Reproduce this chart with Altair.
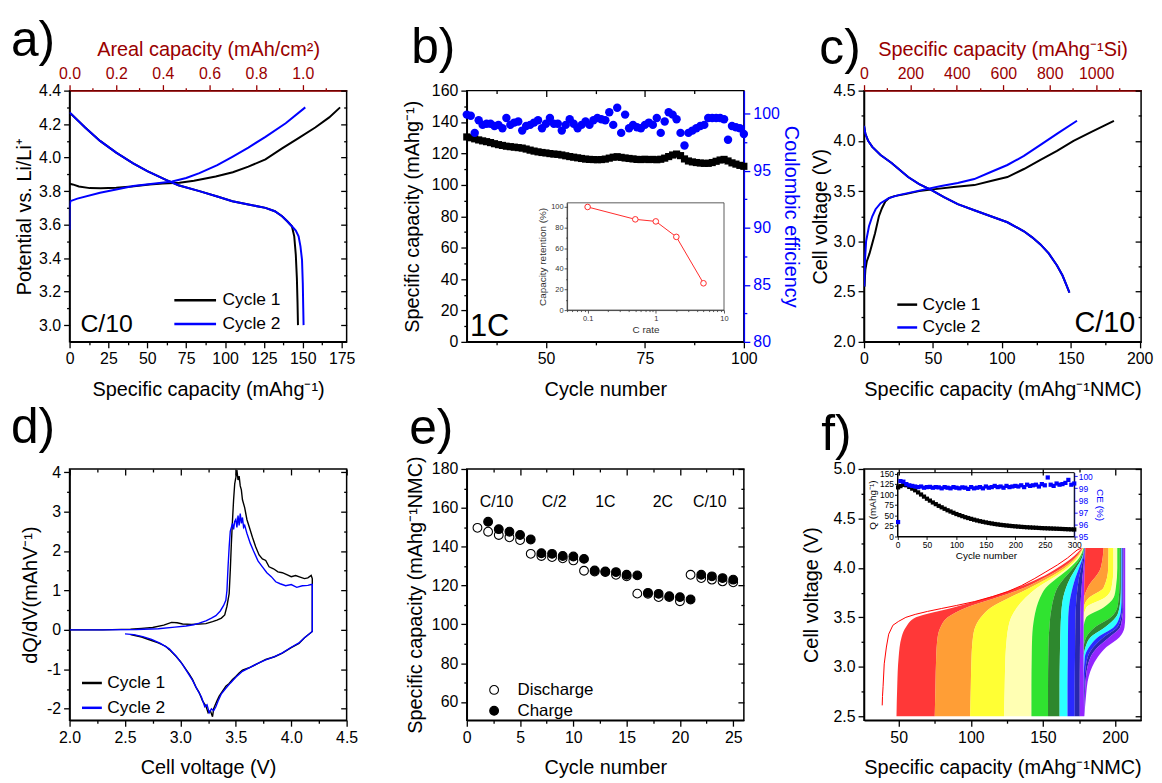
import altair as alt
import pandas as pd

FONT = "Liberation Sans"
W, H = 279, 253
DRED = "#990000"
BLUE = "#0000ff"

# ======================= DATA =======================
# (a) half-cell profiles (specific capacity mAh/g, potential V)
a_c1_chg_cap = [0, 2, 6, 13, 20, 30, 40, 51.5, 60, 70.7, 80, 94, 105, 115, 126, 136.7, 147, 158, 167, 174]
a_c1_chg_v = [3.844, 3.84, 3.828, 3.818, 3.817, 3.82, 3.828, 3.84, 3.845, 3.85, 3.862, 3.887, 3.913, 3.946, 3.99, 4.055, 4.115, 4.18, 4.24, 4.30]
a_c2_chg_cap = [0, 0, 0.5, 5, 19.6, 30, 40.9, 55, 66, 75, 83.5, 95, 104.7, 115, 126, 139, 151.6]
a_c2_chg_v = [3.57, 3.70, 3.74, 3.755, 3.79, 3.81, 3.83, 3.845, 3.857, 3.878, 3.907, 3.955, 4.005, 4.06, 4.124, 4.205, 4.30]
a_c1_dis_cap = [0, 10, 19.6, 30, 40.9, 50, 62, 70, 83.5, 95, 104.7, 115, 126, 132, 136.7, 140, 143, 144.5, 145.5, 146.2, 146.6, 146.9]
a_c1_dis_v = [4.27, 4.18, 4.10, 4.03, 3.966, 3.92, 3.867, 3.835, 3.80, 3.768, 3.74, 3.72, 3.70, 3.68, 3.65, 3.62, 3.59, 3.53, 3.42, 3.28, 3.14, 3.0]
a_c2_dis_cap = [0, 10, 19.6, 30, 40.9, 50, 62, 70, 83.5, 95, 104.7, 115, 126, 132, 136.7, 140, 143, 145.5, 147.3, 148.5, 149.5, 150.0, 150.3, 150.5]
a_c2_dis_v = [4.27, 4.18, 4.10, 4.03, 3.966, 3.92, 3.867, 3.835, 3.80, 3.768, 3.74, 3.72, 3.70, 3.68, 3.65, 3.62, 3.59, 3.565, 3.53, 3.47, 3.39, 3.25, 3.1, 3.0]
a_note = ["C/10"]; a_note_x = [7]; a_note_y = [2.96]

# (b) cycling at 1C
b_cycle = list(range(30, 101))
b_cap = [130.5, 130.0, 129.3, 128.6, 128.0, 127.5, 126.9, 126.2, 125.6, 125.1,
         124.6, 124.3, 124.0, 123.7, 123.4, 122.8, 122.1, 121.5, 121.0, 120.6,
         120.3, 119.9, 119.6, 119.4, 119.0, 118.5, 118.0, 117.6, 117.2, 116.8,
         116.4, 116.2, 116.1, 116.0, 116.1, 116.4, 117.0, 117.6, 117.9, 117.5,
         117.1, 116.8, 116.5, 116.2, 116.1, 116.3, 116.1, 116.2, 116.0, 116.3,
         117.0, 118.0, 119.0, 119.6, 118.6, 116.5, 115.2, 114.6, 114.2, 113.9,
         113.7, 113.7, 114.2, 115.0, 115.8, 116.2, 115.2, 114.0, 113.2, 112.4, 111.8]
b_ce = [99.9, 99.8, 98.3, 99.4, 99.0, 99.1, 99.1, 98.9, 99.0, 98.7,
        99.6, 99.0, 99.2, 99.3, 98.5, 98.9, 99.0, 99.2, 99.4, 98.7,
        99.1, 99.6, 99.1, 99.1, 98.5, 99.0, 99.5, 99.1, 98.7, 99.0,
        99.3, 99.0, 99.4, 99.6, 99.5, 99.4, 100.1, 99.0, 100.5, 98.3,
        99.9, 98.7, 99.0, 98.8, 98.7, 99.0, 99.2, 99.0, 99.6, 98.3,
        99.3, 100.1, 99.9, 99.5, 98.3, 97.2, 98.3, 98.5, 98.7, 98.9,
        99.0, 99.6, 99.6, 99.6, 99.6, 99.5, 97.7, 98.9, 98.8, 98.7, 98.2]
b_in_rate = [0.1, 0.5, 1, 2, 5]
b_in_ret = [100, 88, 86, 71, 26]
b_note = ["1C"]; b_note_x = [30.8]; b_note_y = [4]

# (c) full cell profiles
c_c1_chg_cap = [0.3, 0.6, 1, 2, 4, 6, 8, 10.8, 13, 15.6, 18, 22, 30, 40, 51.5, 65, 80, 92, 104, 116, 128, 140, 152, 165, 181.3]
c_c1_chg_v = [2.55, 2.63, 2.72, 2.8, 2.88, 2.98, 3.08, 3.25, 3.33, 3.40, 3.43, 3.45, 3.47, 3.50, 3.52, 3.54, 3.56, 3.60, 3.64, 3.72, 3.81, 3.90, 4.00, 4.09, 4.20]
c_c2_chg_cap = [0.2, 0.6, 1.5, 3.6, 6, 8.4, 12, 18, 25, 35, 45, 56, 68, 80, 92, 104, 116, 128, 141, 154.5]
c_c2_chg_v = [2.55, 2.79, 3.0, 3.15, 3.25, 3.32, 3.38, 3.43, 3.46, 3.49, 3.52, 3.55, 3.58, 3.62, 3.69, 3.76, 3.85, 3.96, 4.08, 4.20]
c_dis_cap = [0, 1, 3, 6, 12, 20, 32, 40, 49, 58, 68, 80, 92, 104, 116, 122, 128, 134, 140, 144, 147, 149]
c_dis_v = [4.15, 4.07, 4.0, 3.94, 3.86, 3.78, 3.64, 3.57, 3.51, 3.44, 3.37, 3.31, 3.25, 3.19, 3.1, 3.04, 2.97, 2.88, 2.76, 2.66, 2.56, 2.49]
c_note = ["C/10"]; c_note_x = [196.8]; c_note_y = [2.1]

# (d) dQ/dV
d_c1_chg_v = [2.0, 2.3, 2.55, 2.65, 2.75, 2.85, 2.92, 2.97, 3.02, 3.1, 3.17, 3.23, 3.29, 3.33, 3.37, 3.40, 3.42, 3.44, 3.45, 3.46,
              3.47, 3.48, 3.49, 3.50, 3.51, 3.52, 3.53, 3.54, 3.55, 3.56, 3.58, 3.60, 3.62, 3.65, 3.68, 3.71, 3.74, 3.77, 3.80, 3.84,
              3.88, 3.92, 3.96, 4.00, 4.04, 4.08, 4.12, 4.15, 4.18, 4.19]
d_c1_chg_q = [0, 0, 0.02, 0.04, 0.06, 0.12, 0.19, 0.18, 0.15, 0.14, 0.15, 0.16, 0.21, 0.25, 0.3, 0.38, 0.6, 0.92, 1.5, 2.2,
              2.77, 3.3, 3.7, 3.86, 4.05, 3.8, 3.9, 3.65, 3.55, 3.3, 3.1, 2.8, 2.62, 2.35, 2.1, 1.9, 1.8, 1.76, 1.6, 1.55,
              1.47, 1.45, 1.4, 1.35, 1.38, 1.34, 1.3, 1.32, 1.38, 1.3]
d_c1_dis_v = [4.19, 4.12, 4.07, 4.0, 3.92, 3.85, 3.77, 3.7, 3.62, 3.56, 3.53, 3.5, 3.47, 3.44, 3.41, 3.38, 3.35, 3.33, 3.31, 3.30,
              3.29, 3.27, 3.25, 3.23, 3.2, 3.17, 3.14, 3.11, 3.08, 3.05, 3.0, 2.96, 2.9, 2.87, 2.8, 2.72, 2.65, 2.57, 2.55]
d_c1_dis_q = [-0.04, -0.2, -0.34, -0.45, -0.59, -0.68, -0.75, -0.85, -0.96, -1.02, -1.09, -1.18, -1.26, -1.36, -1.43, -1.55, -1.68, -1.8, -1.93, -2.0,
              -2.2, -2.05, -2.1, -1.93, -1.8, -1.59, -1.45, -1.26, -1.12, -1.0, -0.8, -0.67, -0.5, -0.42, -0.33, -0.25, -0.18, -0.13, -0.12]
d_c2_chg_v = [2.0, 2.3, 2.6, 2.8, 2.95, 3.05, 3.12, 3.17, 3.23, 3.28, 3.32, 3.36, 3.39, 3.41, 3.42, 3.43, 3.44, 3.45, 3.46, 3.47,
              3.48, 3.49, 3.50, 3.51, 3.52, 3.53, 3.54, 3.55, 3.56, 3.57, 3.58, 3.60, 3.63, 3.66, 3.70, 3.74, 3.78, 3.82, 3.86, 3.90,
              3.95, 4.0, 4.05, 4.1, 4.15, 4.18, 4.19]
d_c2_chg_q = [0, 0, 0.01, 0.03, 0.07, 0.1, 0.13, 0.17, 0.23, 0.3, 0.36, 0.48, 0.62, 0.75, 1.0, 1.6, 2.1, 2.5, 2.6, 2.7,
              2.55, 2.75, 2.8, 2.6, 2.9, 2.65, 2.95, 2.7, 2.85, 2.6, 2.65, 2.45, 2.2, 2.0, 1.75, 1.6, 1.45, 1.35, 1.22, 1.17,
              1.12, 1.15, 1.08, 1.12, 1.13, 1.15, 1.15]
d_c2_dis_v = [4.19, 4.12, 4.07, 4.0, 3.92, 3.85, 3.77, 3.7, 3.62, 3.56, 3.5, 3.45, 3.41, 3.37, 3.34, 3.32, 3.30, 3.28, 3.26, 3.24,
              3.22, 3.19, 3.15, 3.11, 3.07, 3.02, 2.96, 2.9, 2.82, 2.74, 2.66, 2.58, 2.5]
d_c2_dis_q = [-0.04, -0.2, -0.33, -0.44, -0.58, -0.68, -0.76, -0.85, -0.96, -1.05, -1.2, -1.35, -1.48, -1.62, -1.8, -1.95, -2.05, -2.0, -2.1, -1.9,
              -1.95, -1.7, -1.5, -1.28, -1.1, -0.88, -0.66, -0.48, -0.34, -0.24, -0.17, -0.12, -0.1]

# (e) rate capability
e_dis_cycle = list(range(1, 26))
e_dis = [149.7, 147.7, 146.0, 144.8, 143.4, 136.3, 135.2, 134.6, 134.0, 132.9, 127.6, 127.2, 126.9, 125.5, 124.7,
         115.8, 115.7, 114.0, 114.0, 111.9, 125.5, 123.8, 123.0, 122.1, 121.6]
e_chg_cycle = list(range(2, 26))
e_chg = [152.8, 149.0, 147.7, 146.0, 143.7, 136.6, 136.3, 135.2, 134.9, 133.7, 127.7, 127.2, 126.9, 125.5, 125.2,
         116.2, 115.7, 114.5, 114.0, 112.8, 125.5, 124.7, 123.8, 123.0]
e_rate_label = ["C/10", "C/2", "1C", "2C", "C/10"]
e_rate_x = [2.8, 8.2, 13.0, 18.4, 22.8]
e_rate_y = [163, 163, 163, 163, 163]

# (f) long-term cycling profiles, colour bands (cycle groups, early = purple ... late = red)
f_band_names = ["red", "orange", "yellow", "lightyellow", "green", "darkgreen", "cyan", "blue", "navy", "purple"]
f_band_colors = ["#ff0000", "#ff8400", "#ffff00", "#ffffa0", "#00dc00", "#006e00", "#00ffff", "#0000ff", "#0000a0", "#8000ff"]
f_band_alpha = [0.78, 0.85, 0.9, 1, 1, 1, 1, 1, 1, 1]
f_dis_v = [2.5, 2.8, 3.1, 3.3, 3.4, 3.5, 3.6, 3.7, 3.8, 3.9, 4.0, 4.1, 4.2]
f_dis_bounds = [
    [48.5, 49.0, 50.0, 52.0, 55.0, 62.0, 88.0, 112.0, 132.0, 148.0, 160.0, 170.0, 177.0],
    [75.0, 75.5, 76.0, 77.0, 79.0, 84.0, 97.0, 118.0, 137.0, 151.0, 163.0, 172.0, 177.5],
    [99.5, 100.0, 100.5, 101.5, 103.0, 107.0, 114.0, 127.0, 141.0, 154.0, 165.0, 173.0, 177.8],
    [123.0, 123.5, 124.0, 125.0, 126.0, 128.0, 132.0, 138.0, 146.0, 157.0, 167.0, 174.0, 178.0],
    [142.0, 142.0, 142.2, 142.5, 143.0, 144.0, 145.5, 148.0, 152.0, 160.0, 168.5, 175.0, 178.2],
    [153.5, 153.5, 153.7, 154.0, 154.5, 155.0, 156.0, 157.5, 160.0, 165.0, 171.0, 176.0, 178.4],
    [161.5, 161.5, 161.7, 162.0, 162.2, 162.5, 163.0, 164.0, 166.0, 169.0, 173.0, 177.0, 178.6],
    [167.0, 167.0, 167.2, 167.3, 167.4, 167.5, 168.0, 169.0, 170.5, 172.5, 175.0, 177.5, 178.8],
    [172.0, 172.0, 172.2, 172.3, 172.4, 172.5, 172.8, 173.3, 174.0, 175.0, 176.5, 178.0, 179.0],
    [175.5, 175.5, 175.6, 175.7, 175.8, 175.9, 176.0, 176.3, 176.8, 177.3, 178.0, 178.6, 179.2],
    [178.5, 178.3, 178.2, 178.2, 178.2, 178.2, 178.3, 178.4, 178.6, 178.8, 179.0, 179.2, 179.4],
]
f_chg_v = [2.5, 2.7, 2.9, 3.1, 3.2, 3.3, 3.4, 3.5, 3.6, 3.7, 3.8, 4.0, 4.2]
f_chg_bounds = [
    [178.5, 178.4, 178.3, 178.3, 178.3, 178.3, 178.3, 178.3, 178.4, 178.5, 178.6, 179.0, 179.4],
    [178.5, 178.4, 178.3, 178.3, 178.3, 178.3, 178.3, 178.3, 178.4, 178.6, 181.0, 190.0, 192.0],
    [178.5, 178.4, 178.3, 178.3, 178.3, 178.3, 178.3, 178.3, 178.4, 182.0, 192.0, 195.2, 195.4],
    [178.5, 178.4, 178.3, 178.3, 178.3, 178.3, 178.3, 178.3, 180.0, 193.0, 197.5, 198.8, 198.8],
    [178.5, 178.4, 178.3, 178.3, 178.3, 178.3, 178.3, 180.0, 192.0, 199.0, 200.5, 201.5, 201.5],
    [178.5, 178.4, 178.3, 178.3, 178.3, 180.0, 186.0, 197.0, 201.5, 202.5, 203.0, 203.2, 203.2],
    [178.5, 178.4, 178.3, 178.3, 179.5, 183.0, 193.0, 200.5, 203.0, 203.8, 204.0, 204.0, 204.0],
    [178.5, 178.4, 178.3, 179.0, 182.0, 188.0, 199.0, 203.0, 204.2, 204.5, 204.5, 204.5, 204.5],
    [178.5, 178.6, 179.0, 181.0, 185.0, 192.0, 201.5, 204.2, 205.0, 205.1, 205.2, 205.2, 205.2],
    [178.5, 179.0, 179.8, 183.0, 188.0, 196.0, 203.5, 205.0, 205.5, 205.6, 205.6, 205.8, 205.8],
    [178.7, 179.8, 181.7, 188.0, 194.0, 203.0, 206.5, 207.0, 207.0, 207.0, 207.0, 207.0, 207.0],
]
f_last_cap = [38.6, 38.8, 39.2, 40.0, 41.5, 43.1, 46.0, 50.0, 55.0, 61.5, 70.0, 79.8, 90.0, 102.7, 115.0, 125.5, 135.0, 143.9, 152.0, 160.0, 167.0, 173.6, 176.5]
f_last_v = [2.61, 2.7, 2.8, 3.03, 3.2, 3.33, 3.42, 3.46, 3.5, 3.53, 3.56, 3.59, 3.62, 3.66, 3.71, 3.76, 3.82, 3.89, 3.96, 4.03, 4.1, 4.18, 4.2]
f_in_cycle = [1] + list(range(5, 301, 5))
f_in_q = [117, 120, 123, 122, 118, 114, 110, 105, 100, 95, 90, 85.5, 81, 77, 73, 69.5, 66, 62.5, 59.5, 56.5,
          53.5, 51, 48.5, 46, 44, 42, 40, 38.2, 36.5, 35, 33.5, 32.2, 31, 29.8, 28.8, 27.8, 27, 26.2, 25.5, 24.8,
          24.2, 23.6, 23, 22.5, 22, 21.6, 21.2, 20.8, 20.4, 20, 19.7, 19.4, 19.1, 18.8, 18.5, 18.2, 17.9, 17.6, 17.3, 17, 16.7]
f_in_ce = [96.2, 99.6, 99.55, 99.35, 99.25, 99.2, 99.15, 99.1, 99.15, 99.05, 99.1, 99.12, 99.05, 99.1, 99.08, 99.0, 99.1, 99.05, 99.0, 99.1,
           99.05, 99.0, 99.08, 99.05, 98.95, 99.1, 99.0, 99.05, 99.1, 99.0, 99.15, 99.05, 99.1, 99.2, 99.1, 99.15, 99.05, 99.2, 99.1, 99.15,
           99.2, 99.15, 99.25, 99.1, 99.3, 99.2, 99.25, 99.3, 99.15, 99.35, 99.25, 99.9, 99.3, 99.2, 99.4, 99.3, 99.35, 99.45, 99.7, 99.3, 99.4]

# ---------------- axis domains / ticks ----------------
A_X = [0, 178.2]; A_Y = [2.9, 4.4]; A_T = [0, 1.188]
a_x_major = [0, 25, 50, 75, 100, 125, 150, 175]; a_x_minor = [12.5, 37.5, 62.5, 87.5, 112.5, 137.5, 162.5]
a_y_major = [3.0, 3.2, 3.4, 3.6, 3.8, 4.0, 4.2, 4.4]; a_y_minor = [3.1, 3.3, 3.5, 3.7, 3.9, 4.1, 4.3]
a_t_major = [0.0, 0.2, 0.4, 0.6, 0.8, 1.0]; a_t_minor = [0.1, 0.3, 0.5, 0.7, 0.9, 1.1]
B_X = [30, 100]; B_Y = [0, 160]; B_Y2 = [80, 102]
b_x_major = [50, 75, 100]; b_x_minor = [37.5, 62.5, 87.5]
b_y_major = [0, 20, 40, 60, 80, 100, 120, 140, 160]; b_y_minor = [10, 30, 50, 70, 90, 110, 130, 150]
b_y2_major = [80, 85, 90, 95, 100]; b_y2_minor = [82.5, 87.5, 92.5, 97.5]
BI_X = [0.05, 10]; BI_Y = [0, 104]
bi_x_major = [0.1, 1, 10]; bi_x_minor = [0.05, 0.06, 0.07, 0.08, 0.09, 0.2, 0.3, 0.4, 0.5, 0.6, 0.7, 0.8, 0.9, 2, 3, 4, 5, 6, 7, 8, 9]
bi_y_major = [0, 20, 40, 60, 80, 100]; bi_y_minor = [10, 30, 50, 70, 90]
C_X = [0, 201]; C_Y = [2.0, 4.5]; C_T = [0, 1193.6]
c_x_major = [0, 50, 100, 150, 200]; c_x_minor = [25, 75, 125, 175]
c_y_major = [2.0, 2.5, 3.0, 3.5, 4.0, 4.5]; c_y_minor = [2.25, 2.75, 3.25, 3.75, 4.25]
c_t_major = [0, 200, 400, 600, 800, 1000]; c_t_minor = [100, 300, 500, 700, 900, 1100]
D_X = [2.0, 4.5]; D_Y = [-2.29, 4.08]
d_x_major = [2.0, 2.5, 3.0, 3.5, 4.0, 4.5]; d_x_minor = [2.25, 2.75, 3.25, 3.75, 4.25]
d_y_major = [-2, -1, 0, 1, 2, 3, 4]; d_y_minor = [-1.5, -0.5, 0.5, 1.5, 2.5, 3.5]
E_X = [0, 26]; E_Y = [50.6, 180]
e_x_major = [0, 5, 10, 15, 20, 25]; e_x_minor = [2.5, 7.5, 12.5, 17.5, 22.5]
e_y_major = [60, 80, 100, 120, 140, 160, 180]; e_y_minor = [70, 90, 110, 130, 150, 170]
F_X = [26, 218]; F_Y = [2.46, 5.0]
f_x_major = [50, 100, 150, 200]; f_x_minor = [75, 125, 175]
f_y_major = [2.5, 3.0, 3.5, 4.0, 4.5, 5.0]; f_y_minor = [2.75, 3.25, 3.75, 4.25, 4.75]
FI_X = [0, 300]; FI_Q = [0, 152]; FI_CE = [95, 100.3]
fi_x_major = [0, 50, 100, 150, 200, 250, 300]
fi_q_major = [0, 25, 50, 75, 100, 125, 150]
fi_ce_major = [95, 96, 97, 98, 99, 100]

XT_PAD = 13  # bottom axis title padding


# ======================= HELPERS =======================
def js(v):
    v = float(v)
    return str(int(v)) if v.is_integer() else repr(v)


def axis(dom, major, minor, fmt, major_size=6, minor_size=3, **kw):
    lo, hi = min(dom), max(dom)
    vals = sorted(set(float(v) for v in list(major) + list(minor) if lo - 1e-9 <= v <= hi + 1e-9))
    arr = "[" + ",".join(js(v) for v in major) + "]"
    label = (f"indexof({arr}, datum.value) >= 0 ? (datum.value < 0 ? '-' : '') + "
             f"format(abs(datum.value), '{fmt}') : ''")
    size = {"condition": {"test": f"indexof({arr}, datum.value) < 0", "value": minor_size}, "value": major_size}
    return alt.Axis(values=vals, labelExpr=label, tickSize=size, labelFlush=False, **kw)


def sc(dom, **kw):
    return alt.Scale(domain=list(dom), nice=False, zero=False, **kw)


def mirror_x(dom, major, minor):
    df = pd.DataFrame({"mx": list(dom)})
    return alt.Chart(df).mark_point(opacity=0).encode(
        x=alt.X("mx:Q", scale=sc(dom),
                axis=axis(dom, major, minor, "d", orient="bottom", offset=-H, labels=False,
                          domain=False, title=None)))


def mirror_y(dom, major, minor):
    df = pd.DataFrame({"my": list(dom)})
    return alt.Chart(df).mark_point(opacity=0).encode(
        y=alt.Y("my:Q", scale=sc(dom),
                axis=axis(dom, major, minor, "d", orient="left", offset=-W, labels=False,
                          domain=False, title=None)))


def add_series(rows, xs, ys, name, seg, xk, yk):
    assert len(xs) == len(ys), (name, seg)
    for i, (x, y) in enumerate(zip(xs, ys)):
        rows.append({xk: x, yk: y, "cyc": name, "seg": seg, "i": i})


def note_layer(labels, xs, ys, xdom, ydom, **mk):
    df = pd.DataFrame({"t": labels, "x": xs, "y": ys})
    return alt.Chart(df).mark_text(font=FONT, color="black", **mk).encode(
        x=alt.X("x:Q", scale=sc(xdom), axis=None),
        y=alt.Y("y:Q", scale=sc(ydom), axis=None),
        text="t:N")


def panel_title(txt, dx, dy):
    return alt.TitleParams(text=txt, anchor="start", frame="group", dx=dx, dy=dy, offset=0,
                           fontSize=50, font=FONT, fontWeight="normal", color="black")


def line_legend(x, y, size, rowpad, offset, symbol="stroke"):
    return alt.Legend(orient="none", legendX=x, legendY=y, title=None, symbolType=symbol,
                      symbolSize=size, symbolStrokeWidth=2.5, labelFontSize=17.5,
                      labelFont=FONT, labelOffset=offset, rowPadding=rowpad, labelColor="black")


CYC_SCALE = alt.Scale(domain=["Cycle 1", "Cycle 2"], range=["black", BLUE])

# ======================= PANEL A =======================
rows = []
add_series(rows, a_c1_chg_cap, a_c1_chg_v, "Cycle 1", "c1c", "cap", "v")
add_series(rows, a_c1_dis_cap, a_c1_dis_v, "Cycle 1", "c1d", "cap", "v")
add_series(rows, a_c2_chg_cap, a_c2_chg_v, "Cycle 2", "c2c", "cap", "v")
add_series(rows, a_c2_dis_cap, a_c2_dis_v, "Cycle 2", "c2d", "cap", "v")
a_df = pd.DataFrame(rows)
a_lines = alt.Chart(a_df).mark_line(strokeWidth=2, clip=True).encode(
    x=alt.X("cap:Q", scale=sc(A_X), axis=axis(A_X, a_x_major, a_x_minor, "d", orient="bottom",
                                              title="Specific capacity (mAhg⁻¹)", titlePadding=XT_PAD)),
    y=alt.Y("v:Q", scale=sc(A_Y), axis=axis(A_Y, a_y_major, a_y_minor, ".1f", orient="left",
                                            title="Potential vs. Li/Li⁺", titlePadding=4)),
    color=alt.Color("cyc:N", scale=CYC_SCALE,
                    legend=line_legend(114.5, 199, 441, 3, 15.5, symbol="M-2,0L2,0")),
    detail="seg:N", order="i:Q")
a_top = alt.Chart(pd.DataFrame({"areal": A_T})).mark_point(opacity=0).encode(
    x=alt.X("areal:Q", scale=sc(A_T),
            axis=axis(A_T, a_t_major, a_t_minor, ".1f", orient="top", title="Areal capacity (mAh/cm²)",
                      labelColor=DRED, titleColor=DRED, domainColor=DRED, tickColor=DRED)))
a_txt = note_layer(a_note, a_note_x, a_note_y, A_X, A_Y, align="left", baseline="alphabetic", fontSize=25)
panel_a = alt.layer(a_lines, a_top, a_txt, mirror_y(A_Y, a_y_major, a_y_minor)).resolve_scale(
    x="independent", y="independent").properties(width=W, height=H, title=panel_title("a)", -59, 26.5))

# ======================= PANEL B =======================
b_df = pd.DataFrame({"cyc": b_cycle, "cap": b_cap, "ce": b_ce})
assert len(b_cycle) == len(b_cap) == len(b_ce)
b_caps = alt.Chart(b_df).mark_square(size=52, color="black", opacity=1).encode(
    x=alt.X("cyc:Q", scale=sc(B_X), axis=axis(B_X, b_x_major, b_x_minor, "d", orient="bottom", title="Cycle number",
                                              titlePadding=XT_PAD)),
    y=alt.Y("cap:Q", scale=sc(B_Y), axis=axis(B_Y, b_y_major, b_y_minor, "d", orient="left",
                                              title="Specific capacity (mAhg⁻¹)", titlePadding=9)))
b_ces = alt.Chart(b_df).mark_circle(size=72, color=BLUE, opacity=1).encode(
    x=alt.X("cyc:Q", scale=sc(B_X), axis=None),
    y=alt.Y("ce:Q", scale=sc(B_Y2), axis=axis(B_Y2, b_y2_major, b_y2_minor, "d", orient="right",
                                              title="Coulombic efficiency", labelColor=BLUE, titleColor=BLUE,
                                              domainColor=BLUE, tickColor=BLUE, titlePadding=1)))
XIN = alt.Scale(type="log", domain=BI_X, range=[101, 259], nice=False)
YIN = alt.Scale(domain=BI_Y, range=[221, 113], nice=False, zero=False)
inset_ax = dict(labelFontSize=7.5, titleFontSize=10, labelColor="#333333", titleColor="#333333",
                domainWidth=0.8, tickWidth=0.8, domainColor="#333333", tickColor="#333333",
                labelPadding=1, titlePadding=3)
b_frame = alt.Chart(pd.DataFrame({"x0": [BI_X[0]], "x1": [BI_X[1]], "y0": [BI_Y[0]], "y1": [BI_Y[1]]})).mark_rect(
    fillOpacity=0, stroke="#333333", strokeWidth=0.8).encode(
    x=alt.X("x0:Q", scale=XIN, axis=axis(BI_X, bi_x_major, bi_x_minor, "~g", 3, 1.5, orient="bottom",
                                         offset=-(H - 221), title="C rate", **inset_ax)),
    x2="x1:Q",
    y=alt.Y("y0:Q", scale=YIN, axis=axis(BI_Y, bi_y_major, bi_y_minor, "d", 3, 1.5, orient="left",
                                         offset=-101, title="Capacity retention (%)", **inset_ax)),
    y2="y1:Q")
b_in_df = pd.DataFrame({"rate": b_in_rate, "ret": b_in_ret})
b_in_line = alt.Chart(b_in_df).mark_line(color="#ff2a2a", strokeWidth=1).encode(
    x=alt.X("rate:Q", scale=XIN, axis=None), y=alt.Y("ret:Q", scale=YIN, axis=None))
b_in_pts = alt.Chart(b_in_df).mark_point(shape="circle", size=32, stroke="#ff2a2a", fill="white",
                                         fillOpacity=1, strokeWidth=1, opacity=1, filled=True).encode(
    x=alt.X("rate:Q", scale=XIN, axis=None), y=alt.Y("ret:Q", scale=YIN, axis=None))
b_txt = note_layer(b_note, b_note_x, b_note_y, B_X, B_Y, align="left", baseline="alphabetic", fontSize=31)
panel_b = alt.layer(b_caps, b_ces, b_frame, b_in_line, b_in_pts, b_txt,
                    mirror_x(B_X, b_x_major, b_x_minor)).resolve_scale(
    x="independent", y="independent").properties(width=W, height=H, title=panel_title("b)", -56, -10))

# ======================= PANEL C =======================
rows = []
add_series(rows, c_c1_chg_cap, c_c1_chg_v, "Cycle 1", "c1c", "cap", "v")
add_series(rows, c_dis_cap, c_dis_v, "Cycle 1", "c1d", "cap", "v")
add_series(rows, c_c2_chg_cap, c_c2_chg_v, "Cycle 2", "c2c", "cap", "v")
add_series(rows, c_dis_cap, c_dis_v, "Cycle 2", "c2d", "cap", "v")
c_df = pd.DataFrame(rows)
c_lines = alt.Chart(c_df).mark_line(strokeWidth=2, clip=True).encode(
    x=alt.X("cap:Q", scale=sc(C_X), axis=axis(C_X, c_x_major, c_x_minor, "d", orient="bottom",
                                              title="Specific capacity (mAhg⁻¹NMC)", titlePadding=XT_PAD)),
    y=alt.Y("v:Q", scale=sc(C_Y), axis=axis(C_Y, c_y_major, c_y_minor, ".1f", orient="left",
                                            title="Cell voltage (V)", titlePadding=2.5)),
    color=alt.Color("cyc:N", scale=CYC_SCALE, legend=line_legend(32, 204, 400, 3, 4)),
    detail="seg:N", order="i:Q")
c_top = alt.Chart(pd.DataFrame({"si": C_T})).mark_point(opacity=0).encode(
    x=alt.X("si:Q", scale=sc(C_T),
            axis=axis(C_T, c_t_major, c_t_minor, "d", orient="top", title="Specific capacity (mAhg⁻¹Si)",
                      labelColor=DRED, titleColor=DRED, domainColor=DRED, tickColor=DRED)))
c_txt = note_layer(c_note, c_note_x, c_note_y, C_X, C_Y, align="right", baseline="alphabetic", fontSize=29)
panel_c = alt.layer(c_lines, c_top, c_txt, mirror_y(C_Y, c_y_major, c_y_minor)).resolve_scale(
    x="independent", y="independent").properties(width=W, height=H, title=panel_title("c)", -45, 34.5))

# ======================= PANEL D =======================
rows = []
add_series(rows, d_c1_chg_v + d_c1_dis_v, d_c1_chg_q + d_c1_dis_q, "Cycle 1", "c1", "cv", "dq")
add_series(rows, d_c2_chg_v + d_c2_dis_v, d_c2_chg_q + d_c2_dis_q, "Cycle 2", "c2", "cv", "dq")
d_df = pd.DataFrame(rows)
d_lines = alt.Chart(d_df).mark_line(strokeWidth=1.4, clip=True).encode(
    x=alt.X("cv:Q", scale=sc(D_X), axis=axis(D_X, d_x_major, d_x_minor, ".1f", orient="bottom",
                                             title="Cell voltage (V)", titlePadding=XT_PAD)),
    y=alt.Y("dq:Q", scale=sc(D_Y), axis=axis(D_Y, d_y_major, d_y_minor, "d", orient="left",
                                             title="dQ/dV(mAhV⁻¹)", titlePadding=6)),
    color=alt.Color("cyc:N", scale=CYC_SCALE, legend=line_legend(11, 204, 400, 5, 4)),
    detail="seg:N", order="i:Q")
panel_d = alt.layer(d_lines, mirror_x(D_X, d_x_major, d_x_minor), mirror_y(D_Y, d_y_major, d_y_minor)).resolve_scale(
    x="independent", y="independent").properties(width=W, height=H, title=panel_title("d)", -59, -11))

# ======================= PANEL E =======================
e_df = pd.DataFrame({"cycle": e_dis_cycle + e_chg_cycle, "cap": e_dis + e_chg,
                     "kind": ["Discharge"] * len(e_dis) + ["Charge"] * len(e_chg)})
e_pts = alt.Chart(e_df).mark_point(shape="circle", size=78, stroke="black", strokeWidth=1.1, opacity=1,
                                   filled=True).encode(
    x=alt.X("cycle:Q", scale=sc(E_X), axis=axis(E_X, e_x_major, e_x_minor, "d", orient="bottom", title="Cycle number",
                                                titlePadding=XT_PAD)),
    y=alt.Y("cap:Q", scale=sc(E_Y), axis=axis(E_Y, e_y_major, e_y_minor, "d", orient="left",
                                              title="Specific capacity (mAhg⁻¹NMC)", titlePadding=6)),
    fill=alt.Fill("kind:N", scale=alt.Scale(domain=["Discharge", "Charge"], range=["white", "black"]),
                  legend=alt.Legend(orient="none", legendX=19, legendY=214, title=None, symbolType="circle",
                                    symbolSize=78, symbolStrokeColor="black", symbolStrokeWidth=1.1,
                                    labelFontSize=17, labelFont=FONT, labelOffset=15, rowPadding=3,
                                    labelColor="black")))
e_txt = note_layer(e_rate_label, e_rate_x, e_rate_y, E_X, E_Y, align="center", baseline="middle", fontSize=16)
panel_e = alt.layer(e_pts, e_txt, mirror_x(E_X, e_x_major, e_x_minor), mirror_y(E_Y, e_y_major, e_y_minor)).resolve_scale(
    x="independent", y="independent").properties(width=W, height=H, title=panel_title("e)", -58, -2.5))

# ======================= PANEL F =======================
brow = []
for part, vs, bounds in (("dis", f_dis_v, f_dis_bounds), ("chg", f_chg_v, f_chg_bounds)):
    for k, name in enumerate(f_band_names):
        left, right = bounds[k], bounds[k + 1]
        assert len(left) == len(right) == len(vs)
        for v, xl, xr in zip(vs, left, right):
            brow.append({"v": v, "xl": xl, "xr": xr, "band": name, "part": part + name})
f_bands_df = pd.DataFrame(brow)
f_bands = alt.Chart(f_bands_df).mark_area(orient="horizontal", interpolate="monotone").encode(
    y=alt.Y("v:Q", scale=sc(F_Y), axis=axis(F_Y, f_y_major, f_y_minor, ".1f", orient="left", title="Cell voltage (V)",
                                            titlePadding=11.5)),
    x=alt.X("xl:Q", scale=sc(F_X), stack=False,
            axis=axis(F_X, f_x_major, f_x_minor, "d", orient="bottom", title="Specific capacity (mAhg⁻¹NMC)",
                      titlePadding=XT_PAD)),
    x2="xr:Q",
    fill=alt.Fill("band:N", scale=alt.Scale(domain=f_band_names, range=f_band_colors), legend=None),
    opacity=alt.Opacity("band:N", scale=alt.Scale(domain=f_band_names, range=f_band_alpha), legend=None),
    detail="part:N")
f_last = alt.Chart(pd.DataFrame({"x": f_last_cap, "v": f_last_v, "i": list(range(len(f_last_v)))})).mark_line(
    color="#ff0000", strokeWidth=1).encode(
    x=alt.X("x:Q", scale=sc(F_X), axis=None), y=alt.Y("v:Q", scale=sc(F_Y), axis=None), order="i:Q")
XFI = alt.Scale(domain=FI_X, range=[33.7, 211.7], nice=False, zero=False)
QFI = alt.Scale(domain=FI_Q, range=[68, 3.7], nice=False, zero=False)
CFI = alt.Scale(domain=FI_CE, range=[68, 3.7], nice=False, zero=False)
fin_ax = dict(labelFontSize=8.5, titleFontSize=10, labelPadding=1, titlePadding=2, domainWidth=1, tickWidth=0.9)
f_frame = alt.Chart(pd.DataFrame({"x0": [FI_X[0]], "x1": [FI_X[1]], "y0": [FI_Q[0]], "y1": [FI_Q[1]]})).mark_rect(
    fillOpacity=0, stroke="black", strokeWidth=1).encode(
    x=alt.X("x0:Q", scale=XFI, axis=axis(FI_X, fi_x_major, [], "d", 3, 2, orient="bottom", offset=-(H - 68),
                                         title="Cycle number", **fin_ax)),
    x2="x1:Q",
    y=alt.Y("y0:Q", scale=QFI, axis=axis(FI_Q, fi_q_major, [], "d", 3, 2, orient="left", offset=-33.7,
                                         title="Q  (mAhg⁻¹)", **fin_ax)),
    y2="y1:Q")
f_in_df = pd.DataFrame({"cyc": f_in_cycle, "q": f_in_q, "ce": f_in_ce})
assert len(f_in_cycle) == len(f_in_q) == len(f_in_ce)
f_q = alt.Chart(f_in_df).mark_square(size=18, color="black", opacity=1).encode(
    x=alt.X("cyc:Q", scale=XFI, axis=None), y=alt.Y("q:Q", scale=QFI, axis=None))
f_ce = alt.Chart(f_in_df).mark_square(size=18, color=BLUE, opacity=1).encode(
    x=alt.X("cyc:Q", scale=XFI, axis=None),
    y=alt.Y("ce:Q", scale=CFI, axis=axis(FI_CE, fi_ce_major, [], "d", 3, 2, orient="right", offset=-67.3,
                                         title="CE (%)", labelColor=BLUE, titleColor=BLUE, domainColor=BLUE,
                                         tickColor=BLUE, **fin_ax)))
panel_f = alt.layer(f_bands, f_last, f_frame, f_q, f_ce,
                    mirror_x(F_X, f_x_major, f_x_minor), mirror_y(F_Y, f_y_major, f_y_minor)).resolve_scale(
    x="independent", y="independent").properties(width=W, height=H, title=panel_title("f)", -43, -1))

# ======================= COMPOSE =======================
chart = alt.concat(panel_a, panel_b, panel_c, panel_d, panel_e, panel_f, columns=3,
                   spacing={"row": 128, "column": 121}, bounds="flush",
                   padding={"left": 2, "top": 4.5, "right": 0, "bottom": 0}).resolve_scale(
    color="independent", fill="independent", opacity="independent").configure(
    font=FONT, background="white").configure_view(stroke="black", strokeWidth=1.5).configure_axis(
    domainColor="black", domainWidth=1.5, tickColor="black", tickWidth=1.3, labelFont=FONT, labelFontSize=16,
    labelColor="black", titleFont=FONT, titleFontSize=20, titleFontWeight="normal", titleColor="black",
    grid=False, labelPadding=3, titlePadding=6, labelFlush=False).configure_title(
    font=FONT, fontSize=50, fontWeight="normal", anchor="start", color="black")

chart.save("out.html", embed_options={"renderer": "svg", "actions": False})
